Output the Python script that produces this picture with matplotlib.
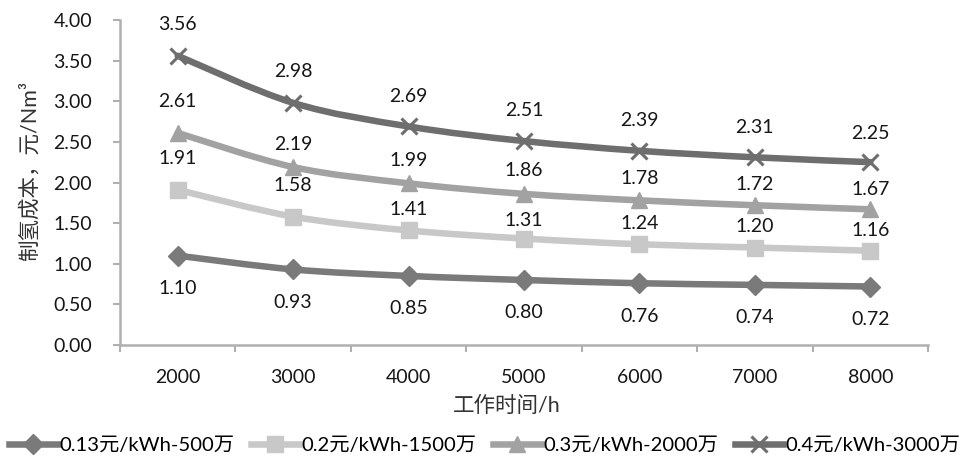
import matplotlib
matplotlib.use("Agg")
import matplotlib.pyplot as plt
from matplotlib.path import Path
from matplotlib.patches import PathPatch
from matplotlib.lines import Line2D
import numpy as np

plt.rcParams['font.family'] = ['Lato', 'Noto Sans CJK SC', 'DejaVu Sans']

hours = ["2000", "3000", "4000", "5000", "6000", "7000", "8000"]
series_names = ["0.13元/kWh-500万", "0.2元/kWh-1500万", "0.3元/kWh-2000万", "0.4元/kWh-3000万"]
cost_013 = [1.10, 0.93, 0.85, 0.80, 0.76, 0.74, 0.72]
cost_02 = [1.91, 1.58, 1.41, 1.31, 1.24, 1.20, 1.16]
cost_03 = [2.61, 2.19, 1.99, 1.86, 1.78, 1.72, 1.67]
cost_04 = [3.56, 2.98, 2.69, 2.51, 2.39, 2.31, 2.25]
y_ticks = [0.0, 0.5, 1.0, 1.5, 2.0, 2.5, 3.0, 3.5, 4.0]

series = [cost_013, cost_02, cost_03, cost_04]
colors = ["#7a7a7a", "#c8c8c8", "#a2a2a2", "#6e6e6e"]
markers = ["D", "s", "^", "x"]
msizes = [10, 11, 11, 11]
# vertical placement of the value labels (pixels, + above / - below the point)
label_shift = [
    [-33] * 7,
    [31, 31, 21, 18, 21, 21, 20],
    [31, 23, 23, 23, 22, 21, 20],
    [31, 31, 30, 31, 30, 30, 29],
]


def smooth_path(xs, ys):
    """Cubic Bezier through the points (Catmull-Rom style tangents)."""
    pts = np.column_stack([xs, ys]).astype(float)
    n = len(pts)
    verts = [pts[0]]
    codes = [Path.MOVETO]
    for i in range(n - 1):
        p0 = pts[i - 1] if i > 0 else pts[i]
        p1 = pts[i]
        p2 = pts[i + 1]
        p3 = pts[i + 2] if i + 2 < n else pts[i + 1]
        c1 = p1 + (p2 - p0) / 6.0
        c2 = p2 - (p3 - p1) / 6.0
        verts += [c1, c2, p2]
        codes += [Path.CURVE4] * 3
    return Path(verts, codes)


W, H = 959, 462
fig = plt.figure(figsize=(W / 100, H / 100), dpi=100)
ax = fig.add_axes([120 / W, 1 - 345 / H, 808 / W, 325 / H])

x = np.arange(len(hours))
for vals, col, mk, ms, shifts in zip(series, colors, markers, msizes, label_shift):
    ax.add_patch(PathPatch(smooth_path(x, vals), facecolor="none", edgecolor=col,
                           lw=4.7, capstyle="round", joinstyle="round", zorder=2))
    ax.plot(x, vals, linestyle="none", marker=mk, markersize=ms, color=col,
            markeredgecolor=col, markeredgewidth=2.2 if mk == "x" else 1, zorder=3)
    for xi, v, dy in zip(x, vals, shifts):
        ax.annotate(f"{v:.2f}", (xi, v), xytext=(0, dy), textcoords="offset pixels",
                    ha="center", va="center", fontsize=14, color="#161616", zorder=4)

ax.set_xlim(-0.5, len(hours) - 0.5)
ax.set_ylim(0, 4.0)
ax.set_yticks(y_ticks)
ax.set_yticklabels([f"{t:.2f}" for t in y_ticks], fontsize=14, color="#161616")
ax.set_xticks(np.arange(-0.5, len(hours), 1.0))
ax.set_xticklabels([])
ax.set_xticks(x, minor=True)
ax.set_xticklabels(hours, minor=True, fontsize=14, color="#161616")
ax.tick_params(axis="x", which="minor", length=0, pad=17)
ax.tick_params(axis="x", which="major", length=5, width=1.5, color="#b0b0b0", direction="out")
ax.tick_params(axis="y", length=5, width=1.5, color="#b0b0b0", direction="out", pad=15)

for s in ["top", "right"]:
    ax.spines[s].set_visible(False)
for s in ["left", "bottom"]:
    ax.spines[s].set_color("#b0b0b0")
    ax.spines[s].set_linewidth(1.8)

fig.text(507 / W, 1 - 406 / H, "工作时间/h", fontsize=15.5, color="#333333",
         ha="center", va="center")
fig.text(30 / W, 1 - 171 / H, "制氢成本，元/Nm³", fontsize=15.5, color="#333333",
         ha="center", va="center", rotation=90)

handles = [Line2D([0], [0], color=c, lw=4.7, marker=m, markersize=ms,
                  markeredgecolor=c, markeredgewidth=2.2 if m == "x" else 1)
           for c, m, ms in zip(colors, markers, msizes)]
fig.legend(handles, series_names, loc="center left", bbox_to_anchor=(9 / W, 1 - 445 / H),
           ncol=4, frameon=False, fontsize=14.6, handlelength=2.4, handletextpad=0.1,
           columnspacing=0.8, borderaxespad=0, borderpad=0)

fig.savefig("out.png", dpi=100)
